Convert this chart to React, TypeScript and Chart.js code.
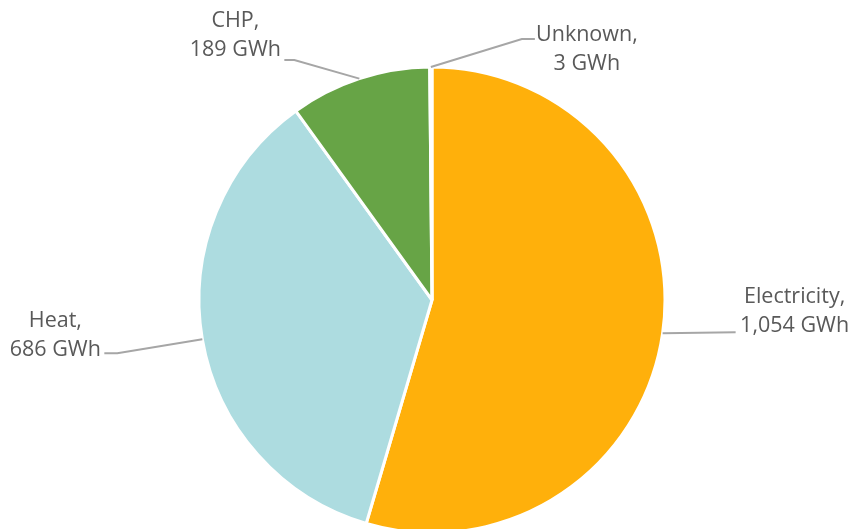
import React, { useEffect, useRef } from "react";
import { Chart, registerables } from "chart.js";

Chart.register(...registerables);

const categories = ["Electricity", "Heat", "CHP", "Unknown"];
const values = [1054, 686, 189, 3];
const valueLabels = ["1,054 GWh", "686 GWh", "189 GWh", "3 GWh"];
const colors = ["#FFB00B", "#ADDCE0", "#67A446", "#ADDCE0"];

// label placement relative to the slice's outer mid-point (styling only)
const labelLayout = [
  { tx: 132, ty: -30, elbow: [73, -1], end: [73, -1] },
  { tx: -147, ty: -12, elbow: [-85, 14], end: [-98, 14] },
  { tx: -124, ty: -51.5, elbow: [-65, -18.5], end: [-75, -18.5] },
  { tx: 156, ty: -26, elbow: [91, -28], end: [104, -28] },
];

const labelPlugin = {
  id: "pieLabels",
  afterDraw(chart: any) {
    const ctx = chart.ctx;
    const meta = chart.getDatasetMeta(0);
    ctx.save();
    meta.data.forEach((arc: any, i: number) => {
      const { x, y, startAngle, endAngle, outerRadius } = arc.getProps(
        ["x", "y", "startAngle", "endAngle", "outerRadius"],
        true
      );
      const mid = (startAngle + endAngle) / 2;
      const ax = x + Math.cos(mid) * outerRadius;
      const ay = y + Math.sin(mid) * outerRadius;
      const L = labelLayout[i];
      ctx.strokeStyle = "#A6A6A6";
      ctx.lineWidth = 2;
      ctx.beginPath();
      ctx.moveTo(ax, ay);
      ctx.lineTo(ax + L.elbow[0], ay + L.elbow[1]);
      ctx.lineTo(ax + L.end[0], ay + L.end[1]);
      ctx.stroke();
      ctx.fillStyle = "#595959";
      ctx.font = "21.5px 'Open Sans'";
      ctx.textAlign = "center";
      ctx.textBaseline = "alphabetic";
      ctx.fillText(categories[i] + ",", ax + L.tx, ay + L.ty);
      ctx.fillText(valueLabels[i], ax + L.tx, ay + L.ty + 28.5);
    });
    ctx.restore();
  },
};

export default function App() {
  const ref = useRef<HTMLCanvasElement>(null);
  useEffect(() => {
    if (!ref.current) return;
    const chart = new Chart(ref.current, {
      type: "pie",
      data: {
        labels: categories,
        datasets: [
          {
            data: values,
            backgroundColor: colors,
            borderColor: "#FFFFFF",
            borderWidth: 3,
          },
        ],
      },
      options: {
        responsive: false,
        animation: false,
        radius: 233,
        layout: { padding: { top: 71, bottom: 0, left: 12, right: 0 } },
        plugins: {
          legend: { display: false },
          tooltip: { enabled: false },
        },
      } as any,
      plugins: [labelPlugin],
    });
    return () => chart.destroy();
  }, []);
  return (
    <div style={{ position: "fixed", left: 0, top: 0, width: 852, height: 529, background: "#fff" }}>
      <canvas ref={ref} width={852} height={529} />
    </div>
  );
}
